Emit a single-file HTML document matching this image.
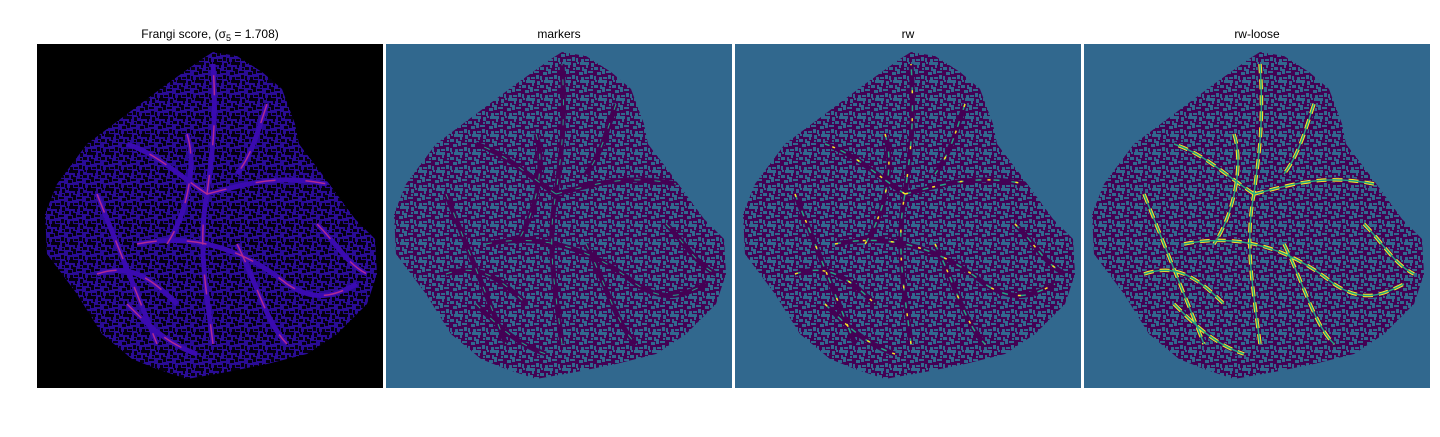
<!DOCTYPE html>
<html><head><meta charset="utf-8"><style>
body{margin:0;background:#fff;width:1440px;height:432px;overflow:hidden;font-family:"Liberation Sans","DejaVu Sans",sans-serif}
</style></head><body>
<svg width="1440" height="432" viewBox="0 0 1440 432">
<defs>
<clipPath id="blob"><polygon points="176,8 200,12 225,28 245,45 258,80 262,100 285,130 318,175 338,195 340,230 330,260 300,290 270,310 230,320 190,328 150,335 120,325 95,315 65,290 40,250 10,210 8,170 20,140 50,100 90,70 130,40 165,15"/></clipPath>
<g id="texshapes">
<rect x="0" y="0" width="5" height="3"/><rect x="2" y="3" width="2" height="3"/><rect x="7" y="1" width="3" height="4"/><rect x="10" y="5" width="4" height="3"/><rect x="0" y="7" width="3" height="5"/><rect x="4" y="9" width="5" height="2"/><rect x="13" y="10" width="4" height="3"/><rect x="6" y="13" width="3" height="4"/><rect x="14" y="0" width="4" height="3"/><rect x="1" y="15" width="4" height="2"/><rect x="10" y="14" width="2" height="4"/><rect x="15" y="15" width="3" height="3"/><rect x="16" y="5" width="2" height="4"/><rect x="11" y="0" width="2" height="2"/><rect x="7" y="6" width="2" height="2"/>
</g>
<pattern id="tex1" width="18" height="18" patternUnits="userSpaceOnUse"><rect width="18" height="18" fill="#2a0c95"/><use href="#texshapes" fill="#050010"/></pattern>
<pattern id="tex2" width="18" height="18" patternUnits="userSpaceOnUse"><rect width="18" height="18" fill="#440154"/><use href="#texshapes" fill="#31688e"/></pattern>
<g id="vessels" fill="none">
<path d="M176,300 C170,250 160,200 170,150 C175,110 180,80 176,20"/>
<path d="M170,150 C140,130 120,110 90,100"/>
<path d="M170,150 C210,140 240,130 290,140"/>
<path d="M100,200 C150,190 200,200 250,240 C280,260 300,250 320,240"/>
<path d="M60,150 C80,200 100,250 120,300"/>
<path d="M200,200 C220,240 230,280 250,300"/>
<path d="M60,230 C90,220 110,230 140,260"/>
<path d="M150,90 C160,120 150,170 130,200"/>
<path d="M230,60 C220,90 215,110 200,130"/>
<path d="M90,260 C110,280 130,300 160,310"/>
<path d="M280,180 C300,200 310,220 330,230"/>
</g>
</defs>

<text x="210" y="38" font-size="12" text-anchor="middle">Frangi score, (σ<tspan font-size="9" dy="3">5</tspan><tspan dy="-3"> = 1.708)</tspan></text>
<text x="559" y="38" font-size="12" text-anchor="middle">markers</text>
<text x="908" y="38" font-size="12" text-anchor="middle">rw</text>
<text x="1257" y="38" font-size="12" text-anchor="middle">rw-loose</text>

<g transform="translate(37,44)">
<rect width="346" height="344" fill="#000"/>
<g clip-path="url(#blob)"><rect width="346" height="344" fill="url(#tex1)"/>
<use href="#vessels" stroke="#3a0ab0" stroke-width="5"/>
<use href="#vessels" stroke="#b02a90" stroke-width="1.5" stroke-dasharray="20 30"/></g>
</g>
<g transform="translate(386,44)">
<rect width="346" height="344" fill="#31688e"/>
<g clip-path="url(#blob)"><rect width="346" height="344" fill="url(#tex2)"/>
<use href="#vessels" stroke="#440154" stroke-width="5"/>
<use href="#vessels" stroke="#21a585" stroke-width="1" stroke-dasharray="6 14"/></g>
</g>
<g transform="translate(735,44)">
<rect width="346" height="344" fill="#31688e"/>
<g clip-path="url(#blob)"><rect width="346" height="344" fill="url(#tex2)"/>
<use href="#vessels" stroke="#440154" stroke-width="5"/>
<use href="#vessels" stroke="#21a585" stroke-width="1.5" stroke-dasharray="6 12"/>
<use href="#vessels" stroke="#fde725" stroke-width="1.5" stroke-dasharray="3 25"/></g>
</g>
<g transform="translate(1084,44)">
<rect width="346" height="344" fill="#31688e"/>
<g clip-path="url(#blob)"><rect width="346" height="344" fill="url(#tex2)"/>
<use href="#vessels" stroke="#440154" stroke-width="5"/>
<use href="#vessels" stroke="#fde725" stroke-width="3.5" stroke-dasharray="10 6"/>
<use href="#vessels" stroke="#21a585" stroke-width="1.5"/></g>
</g>
</svg>
</body></html>
